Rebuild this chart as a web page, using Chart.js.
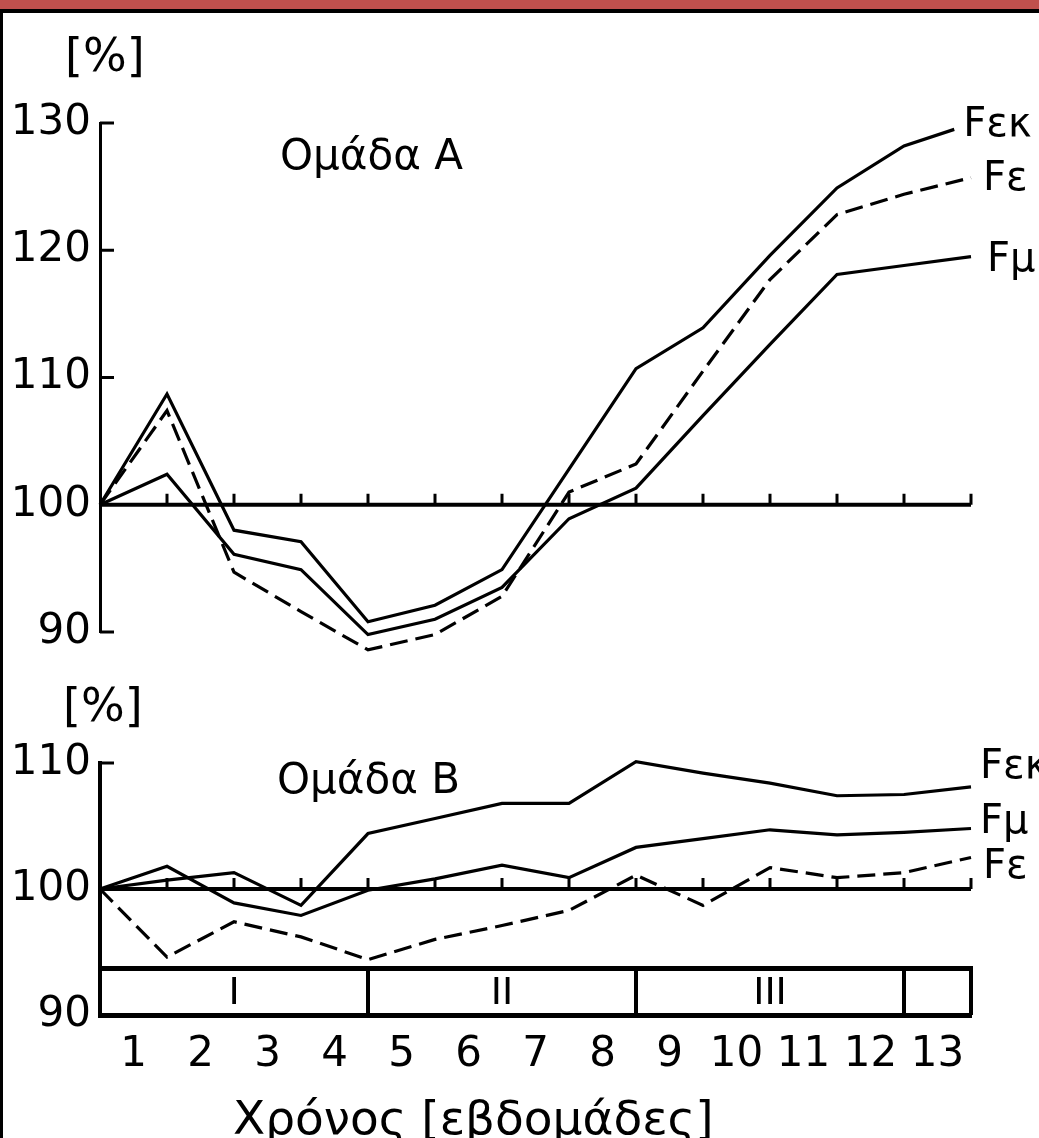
<!DOCTYPE html>
<html>
<head>
<meta charset="utf-8">
<title>Ομάδα A / Ομάδα B</title>
<script src="https://cdn.jsdelivr.net/npm/chart.js@4/dist/chart.umd.min.js"></script>
<style>
  html, body { margin: 0; padding: 0; background: #fff; }
  #page { position: relative; width: 1039px; height: 1138px; overflow: hidden; background: #fff; }
  #band { position: absolute; left: 0; top: 0; width: 1039px; height: 9px; background: #c0504d; }
  #rule { position: absolute; left: 0; top: 9px; width: 1039px; height: 4px; background: #000; }
  #side { position: absolute; left: 0; top: 9px; width: 3px; height: 1129px; background: #000; }
  canvas { position: absolute; left: 0; }
  #chartA { top: 0; }
  #chartB { top: 680px; }
</style>
</head>
<body>
<div id="page">
  <canvas id="chartA" width="1039" height="680"></canvas>
  <canvas id="chartB" width="1039" height="458"></canvas>
  <div id="band"></div>
  <div id="rule"></div>
  <div id="side"></div>
</div>
<script>
const weeks = [0, 1, 2, 3, 4, 5, 6, 7, 8, 9, 10, 11, 12, 13];
const weeksFekA = [0, 1, 2, 3, 4, 5, 6, 7, 8, 9, 10, 11, 12, 12.75];
const weekLabels = ["1", "2", "3", "4", "5", "6", "7", "8", "9", "10", "11", "12", "13"];

// Ομάδα A (%)
const fekA = [100, 108.7, 98.0, 97.1, 90.8, 92.1, 94.9, 102.8, 110.7, 113.9, 119.6, 124.9, 128.2, 129.5];
const feA  = [100, 107.4, 94.7, 91.6, 88.6, 89.8, 92.8, 101.0, 103.2, 110.5, 117.7, 122.8, 124.4, 125.7];
const fmA  = [100, 102.4, 96.1, 94.9, 89.8, 91.0, 93.5, 98.9, 101.3, 107.0, 112.6, 118.1, 118.8, 119.5];

// Ομάδα B (%)
const fekB = [100, 100.7, 101.3, 98.7, 104.4, 105.6, 106.8, 106.8, 110.1, 109.2, 108.4, 107.4, 107.5, 108.1];
const fmB  = [100, 101.8, 98.9, 97.9, 99.9, 100.8, 101.9, 100.9, 103.3, 104.0, 104.7, 104.3, 104.5, 104.8];
const feB  = [100, 94.6, 97.4, 96.2, 94.4, 96.0, 97.1, 98.3, 101.1, 98.7, 101.7, 100.9, 101.3, 102.5];

const yTicksA = [90, 100, 110, 120, 130];
const yTicksB = [90, 100, 110];

// training phases under group B
const phaseEdges = [0, 4, 8, 12, 13];
const phaseNames = ["I", "II", "III", ""];
const phaseTop = 93.7;

const FONT = '"DejaVu Sans", sans-serif';

function points(xs, ys) {
  return ys.map((v, i) => ({ x: xs[i], y: v }));
}

function series(label, xs, ys, dashed) {
  return {
    label,
    data: points(xs, ys),
    borderColor: "#000",
    borderWidth: 3.2,
    borderDash: dashed ? [18, 8] : [],
    pointRadius: 0,
    tension: 0,
    clip: false
  };
}

// horizontal 100% line with small week marks
const baseline = {
  id: "baseline",
  beforeDatasetsDraw(chart) {
    const { ctx, scales: { x, y } } = chart;
    const yb = y.getPixelForValue(100);
    ctx.save();
    ctx.strokeStyle = "#000";
    ctx.lineWidth = 4;
    ctx.beginPath();
    ctx.moveTo(x.getPixelForValue(0), yb);
    ctx.lineTo(x.getPixelForValue(13), yb);
    ctx.stroke();
    ctx.lineWidth = 3;
    for (const w of weeks.slice(1)) {
      const px = x.getPixelForValue(w);
      ctx.beginPath();
      ctx.moveTo(px, yb);
      ctx.lineTo(px, yb - 11);
      ctx.stroke();
    }
    ctx.restore();
  }
};

// y ticks pointing into the plot
const innerTicks = {
  id: "innerTicks",
  afterDraw(chart) {
    const { ctx, scales: { y }, chartArea } = chart;
    ctx.save();
    ctx.strokeStyle = "#000";
    ctx.lineWidth = 3;
    for (const t of y.ticks) {
      if (t.value === 100) continue;
      const py = y.getPixelForValue(t.value);
      ctx.beginPath();
      ctx.moveTo(chartArea.left, py);
      ctx.lineTo(chartArea.left + 14, py);
      ctx.stroke();
    }
    ctx.restore();
  }
};

// series names next to the line ends
const endLabels = {
  id: "endLabels",
  afterDatasetsDraw(chart, args, opts) {
    const { ctx } = chart;
    ctx.save();
    ctx.fillStyle = "#000";
    ctx.font = "40px " + FONT;
    ctx.textBaseline = "middle";
    ctx.textAlign = "left";
    chart.data.datasets.forEach((ds, i) => {
      const pts = chart.getDatasetMeta(i).data;
      const last = pts[pts.length - 1];
      const [dx, dy] = opts.offsets[i];
      ctx.fillText(ds.label, last.x + dx, last.y + dy);
    });
    ctx.restore();
  }
};

// free text: group name, unit, axis title
const notes = {
  id: "notes",
  afterDraw(chart, args, opts) {
    const { ctx } = chart;
    ctx.save();
    ctx.fillStyle = "#000";
    ctx.textBaseline = "alphabetic";
    ctx.textAlign = "left";
    for (const n of opts.items) {
      ctx.font = n.size + "px " + FONT;
      ctx.fillText(n.text, n.x, n.y);
    }
    ctx.restore();
  }
};

// phase strip along the bottom of group B
const phaseBox = {
  id: "phaseBox",
  afterDatasetsDraw(chart) {
    const { ctx, scales: { x, y } } = chart;
    const top = y.getPixelForValue(phaseTop);
    const bottom = y.getPixelForValue(90);
    ctx.save();
    ctx.strokeStyle = "#000";
    ctx.lineWidth = 5;
    ctx.beginPath();
    ctx.moveTo(x.getPixelForValue(0), top);
    ctx.lineTo(x.getPixelForValue(13) + 2, top);
    ctx.stroke();
    ctx.lineWidth = 4;
    for (const e of phaseEdges.slice(1)) {
      const px = x.getPixelForValue(e);
      ctx.beginPath();
      ctx.moveTo(px, top);
      ctx.lineTo(px, bottom);
      ctx.stroke();
    }
    ctx.fillStyle = "#000";
    ctx.font = "38px " + FONT;
    ctx.textAlign = "center";
    ctx.textBaseline = "middle";
    phaseNames.forEach((name, i) => {
      if (!name) return;
      const mid = (phaseEdges[i] + phaseEdges[i + 1]) / 2;
      ctx.fillText(name, x.getPixelForValue(mid), (top + bottom) / 2 + 2);
    });
    ctx.restore();
  }
};

function yScale(min, max, ticks, borderWidth) {
  return {
    min, max,
    afterBuildTicks: (axis) => { axis.ticks = ticks.map(v => ({ value: v })); },
    afterFit: (axis) => { axis.width = 100; },
    grid: { drawOnChartArea: false, drawTicks: false },
    border: { display: true, color: "#000", width: borderWidth },
    ticks: { color: "#000", font: { family: FONT, size: 42 }, padding: 9 }
  };
}

new Chart(document.getElementById("chartA"), {
  type: "line",
  data: {
    datasets: [
      series("Fεκ", weeksFekA, fekA, false),
      series("Fε", weeks, feA, true),
      series("Fμ", weeks, fmA, false)
    ]
  },
  options: {
    responsive: false,
    animation: false,
    events: [],
    layout: { padding: { top: 123, right: 68, bottom: 48, left: 0 } },
    scales: {
      x: { type: "linear", min: 0, max: 13, display: false },
      y: yScale(90, 130, yTicksA, 3)
    },
    plugins: {
      legend: { display: false },
      tooltip: { enabled: false },
      endLabels: { offsets: [[9, -4], [12, 2], [16, 4]] },
      notes: {
        items: [
          { text: "[%]", x: 65, y: 71, size: 46 },
          { text: "Ομάδα A", x: 280, y: 169, size: 42 }
        ]
      }
    }
  },
  plugins: [baseline, innerTicks, endLabels, notes]
});

new Chart(document.getElementById("chartB"), {
  type: "line",
  data: {
    datasets: [
      series("Fεκ", weeks, fekB, false),
      series("Fμ", weeks, fmB, false),
      series("Fε", weeks, feB, true)
    ]
  },
  options: {
    responsive: false,
    animation: false,
    events: [],
    layout: { padding: { top: 83, right: 68, bottom: 0, left: 0 } },
    scales: {
      x: {
        type: "linear", min: 0, max: 13,
        afterBuildTicks: (axis) => { axis.ticks = weekLabels.map((_, i) => ({ value: i + 0.5 })); },
        afterFit: (axis) => { axis.height = 123; },
        grid: { drawOnChartArea: false, drawTicks: false },
        border: { display: true, color: "#000", width: 5 },
        ticks: {
          color: "#000",
          font: { family: FONT, size: 42 },
          padding: 15,
          autoSkip: false,
          maxRotation: 0,
          callback: (v, i) => weekLabels[i]
        }
      },
      y: yScale(90, 110, yTicksB, 4)
    },
    plugins: {
      legend: { display: false },
      tooltip: { enabled: false },
      endLabels: { offsets: [[9, -19], [9, -6], [12, 10]] },
      notes: {
        items: [
          { text: "[%]", x: 63, y: 41, size: 46 },
          { text: "Ομάδα B", x: 277, y: 113, size: 42 },
          { text: "Χρόνος [εβδομάδες]", x: 233, y: 454, size: 47 }
        ]
      }
    }
  },
  plugins: [baseline, innerTicks, phaseBox, endLabels, notes]
});
</script>
</body>
</html>
